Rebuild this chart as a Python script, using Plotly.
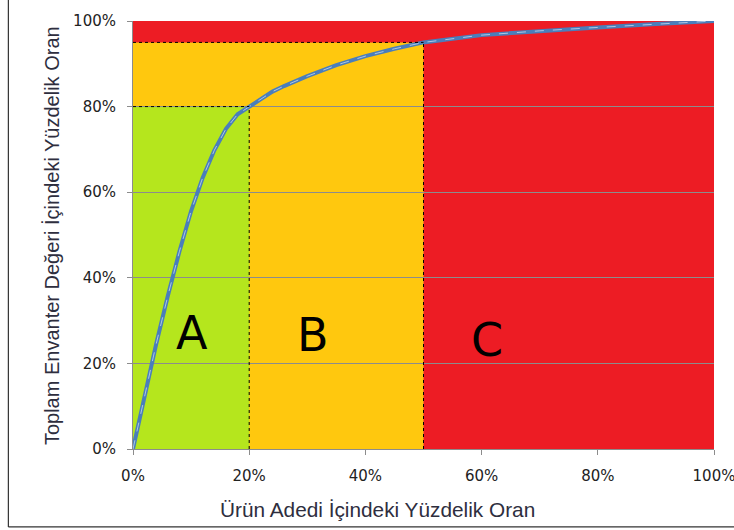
import plotly.graph_objects as go

# Cumulative share of items (%) vs cumulative share of inventory value (%)
item_share = [0, 2, 4, 6, 8, 10, 12, 14, 16, 18, 20, 22, 24, 26, 28, 30, 35, 40, 45, 50, 60, 70, 80, 90, 100]
value_share = [0, 12.5, 24.6, 35.8, 46.2, 55.6, 63.4, 69.8, 74.8, 78.2, 80, 81.9, 83.5, 84.8, 86.0, 87.1, 89.7, 91.8, 93.5, 95, 96.7, 97.7, 98.5, 99.3, 100]

# ABC class limits: (item share %, value share %)
class_a = (20, 80)
class_b = (50, 95)
class_labels = ["A", "B", "C"]
label_x = [10.2, 30.9, 60.9]
label_y = [27, 26.6, 25.5]

tick_vals = [0, 20, 40, 60, 80, 100]
tick_text = ["0%", "20%", "40%", "60%", "80%", "100%"]

RED = "#ED1C24"
ORANGE = "#FFC80E"
GREEN = "#B5E61D"
TICK_FONT = "DejaVu Sans"
TITLE_FONT = "Liberation Sans"

fig = go.Figure()

fig.add_trace(go.Scatter(
    x=item_share, y=value_share, mode="lines",
    line=dict(color="#4A7EBB", width=4),
    hoverinfo="skip", showlegend=False,
))
fig.add_trace(go.Scatter(
    x=item_share, y=value_share, mode="lines",
    line=dict(color="rgba(215,230,245,0.7)", width=1, dash="dash"),
    hoverinfo="skip", showlegend=False,
))

shapes = []
# class regions
shapes.append(dict(type="rect", xref="x", yref="y", x0=0, x1=100, y0=0, y1=100,
                   fillcolor=RED, line_width=0, layer="below"))
shapes.append(dict(type="rect", xref="x", yref="y", x0=0, x1=class_b[0], y0=0, y1=class_b[1],
                   fillcolor=ORANGE, line_width=0, layer="below"))
shapes.append(dict(type="rect", xref="x", yref="y", x0=0, x1=class_a[0], y0=0, y1=class_a[1],
                   fillcolor=GREEN, line_width=0, layer="below"))
# dashed class boundaries
for cx, cy in (class_a, class_b):
    shapes.append(dict(type="line", xref="x", yref="y", x0=0, x1=cx, y0=cy, y1=cy,
                       line=dict(color="black", width=1, dash="dot")))
    shapes.append(dict(type="line", xref="x", yref="y", x0=cx, x1=cx, y0=0, y1=cy,
                       line=dict(color="black", width=1, dash="dot")))
# frame around the chart (left and bottom edges)
shapes.append(dict(type="line", xref="paper", yref="paper", x0=-0.2145, x1=-0.2145, y0=-0.182, y1=1.06,
                   line=dict(color="#333333", width=1.2)))
shapes.append(dict(type="line", xref="paper", yref="paper", x0=-0.2145, x1=1.05, y0=-0.182, y1=-0.182,
                   line=dict(color="#333333", width=1.2)))

annotations = []
for lab, lx, ly in zip(class_labels, label_x, label_y):
    annotations.append(dict(x=lx, y=ly, xref="x", yref="y", text=lab, showarrow=False,
                            font=dict(family=TICK_FONT, size=46, color="black")))
annotations.append(dict(x=0.42, y=-0.141, xref="paper", yref="paper", xanchor="center", yanchor="middle",
                        text="Ürün Adedi İçindeki Yüzdelik Oran", showarrow=False,
                        font=dict(family=TITLE_FONT, size=20.8, color="#2E2E3E")))
annotations.append(dict(x=-0.139, y=0.498, xref="paper", yref="paper", xanchor="center", yanchor="middle",
                        textangle=-90, text="Toplam Envanter Değeri İçindeki Yüzdelik Oran", showarrow=False,
                        font=dict(family=TITLE_FONT, size=20, color="#2E2E3E")))

axis_common = dict(
    range=[0, 100], tickvals=tick_vals, ticktext=tick_text,
    showline=True, linecolor="#8C8C8C", linewidth=1,
    ticks="outside", ticklen=5, tickcolor="#8C8C8C",
    tickfont=dict(family=TICK_FONT, size=15, color="#222222"),
    ticklabelstandoff=8, automargin=False,
    zeroline=False, fixedrange=True,
)

fig.update_layout(
    width=734, height=530,
    margin=dict(l=133, r=20, t=21, b=81),
    paper_bgcolor="white", plot_bgcolor="white",
    shapes=shapes, annotations=annotations,
    xaxis=dict(**axis_common, showgrid=False, ticklabeloverflow="allow"),
    yaxis=dict(**axis_common, showgrid=True, gridcolor="#8C8C8C", gridwidth=1),
)

fig.write_html("out.html")
